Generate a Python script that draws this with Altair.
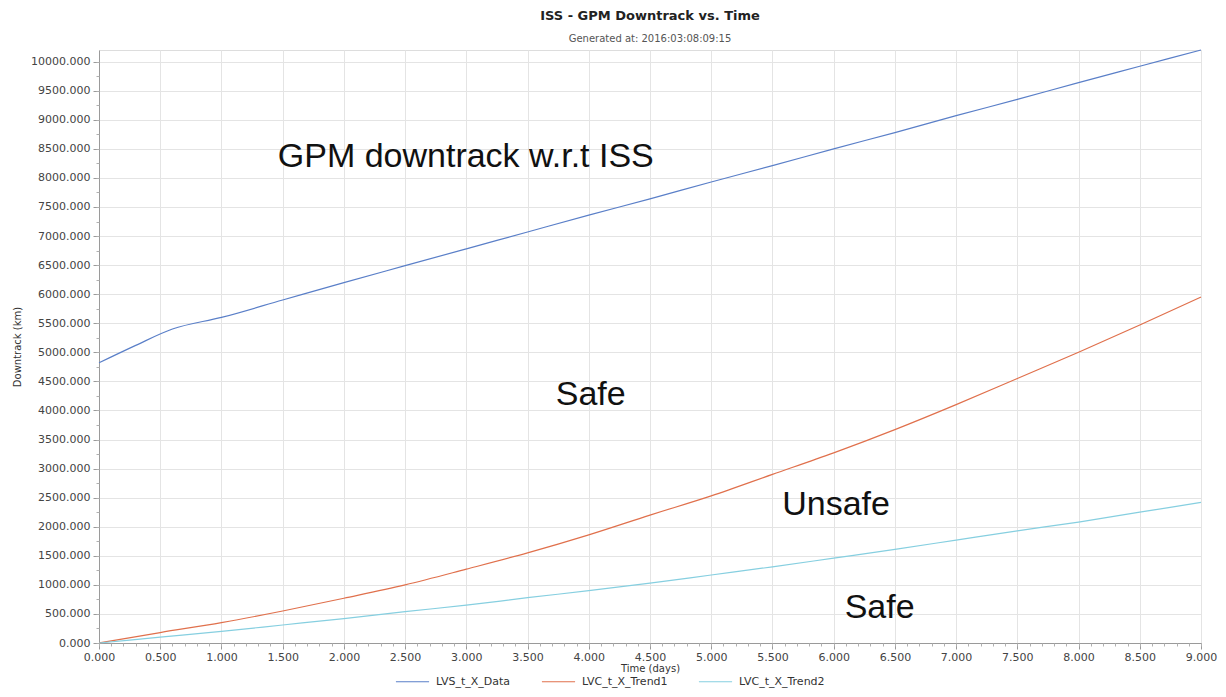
import altair as alt
import pandas as pd

# ---- data ----
blue_x = [0, 0.3, 0.6, 1.0, 1.5, 2.0, 2.5, 3.0, 3.5, 4.0, 4.5, 5.0, 5.5, 6.0, 6.5, 7.0, 7.5, 8.0, 8.5, 9.0]
blue_y = [4820, 5120, 5400, 5600, 5900, 6200, 6490, 6780, 7070, 7360, 7640, 7930, 8210, 8500, 8780, 9070, 9350, 9640, 9920, 10200]

trend_x = [0, 0.5, 1.0, 1.5, 2.0, 2.5, 3.0, 3.5, 4.0, 4.5, 5.0, 5.5, 6.0, 6.5, 7.0, 7.5, 8.0, 8.5, 9.0]
trend1_y = [0, 180, 350, 550, 770, 1000, 1270, 1550, 1860, 2200, 2530, 2900, 3270, 3670, 4100, 4550, 5000, 5470, 5950]
trend2_y = [0, 100, 200, 310, 420, 540, 650, 780, 900, 1030, 1170, 1310, 1460, 1610, 1770, 1930, 2080, 2250, 2420]

series_names = ["LVS_t_X_Data", "LVC_t_X_Trend1", "LVC_t_X_Trend2"]
series_colors = ["#5a7fc8", "#e0704c", "#86cfe0"]

note_text = ["GPM downtrack w.r.t ISS", "Safe", "Unsafe", "Safe"]
note_x = [1.46, 3.73, 5.58, 6.09]
note_y = [8193, 4096, 2203, 430]

x_major = [i * 0.5 for i in range(19)]
x_minor = [round(i * 0.1, 1) for i in range(91)]
y_major = [i * 500 for i in range(21)]
y_minor = [i * 250 for i in range(41)]

rows = []
for x, y in zip(blue_x, blue_y):
    rows.append({"t": x, "v": y, "s": series_names[0]})
for x, y in zip(trend_x, trend1_y):
    rows.append({"t": x, "v": y, "s": series_names[1]})
for x, y in zip(trend_x, trend2_y):
    rows.append({"t": x, "v": y, "s": series_names[2]})
df = pd.DataFrame(rows)
notes = pd.DataFrame({"text": note_text, "t": note_x, "v": note_y})

FONT = "DejaVu Sans"
xscale = alt.Scale(domain=[0, 9], nice=False, zero=False)
yscale = alt.Scale(domain=[0, 10200], nice=False)

lines = alt.Chart(df).mark_line(strokeWidth=1.2, interpolate="monotone").encode(
    x=alt.X("t:Q", scale=xscale, title="Time (days)",
            axis=alt.Axis(values=x_major, format=".3f", orient="bottom", grid=True,
                          gridColor="#e4e4e4", domainColor="#9a9a9a", tickColor="#9a9a9a",
                          tickSize=6, labelFont=FONT, labelFontSize=11, labelColor="#444",
                          labelPadding=2, titleFont=FONT, titleFontSize=10,
                          titleFontWeight="normal", titleColor="#333", titlePadding=1,
                          labelFlush=False)),
    y=alt.Y("v:Q", scale=yscale, title="Downtrack (km)",
            axis=alt.Axis(values=y_major, format=".3f", orient="left", grid=True,
                          gridColor="#e4e4e4", domainColor="#9a9a9a", tickColor="#9a9a9a",
                          tickSize=6, labelFont=FONT, labelFontSize=11, labelColor="#444",
                          labelPadding=3, titleFont=FONT, titleFontSize=10,
                          titleFontWeight="normal", titleColor="#333", titlePadding=8)),
    color=alt.Color("s:N", sort=series_names,
                    scale=alt.Scale(domain=series_names, range=series_colors),
                    legend=alt.Legend(title=None, orient="none", direction="horizontal",
                                      legendX=296, legendY=614, symbolType="stroke",
                                      symbolSize=1100, symbolStrokeWidth=1.2,
                                      labelFont=FONT, labelFontSize=11, labelColor="#333",
                                      columnPadding=28, labelOffset=6, padding=0)),
)

text = alt.Chart(notes).mark_text(align="left", baseline="alphabetic",
                                  font="Liberation Sans", fontSize=34, color="#111").encode(
    x=alt.X("t:Q", scale=xscale,
            axis=alt.Axis(values=x_minor, labels=False, grid=False, domain=False, title=None,
                          orient="bottom", tickColor="#b0b0b0", tickSize=3)),
    y=alt.Y("v:Q", scale=yscale,
            axis=alt.Axis(values=y_minor, labels=False, grid=False, domain=False, title=None,
                          orient="left", tickColor="#b0b0b0", tickSize=3)),
    text="text:N",
)

chart = alt.layer(lines, text).resolve_axis(x="independent", y="independent").properties(
    width=1102,
    height=593,
    autosize=alt.AutoSizeParams(type="none"),
    padding={"left": 91, "top": 42, "right": 17, "bottom": 46},
    title=alt.TitleParams(
        text="ISS - GPM Downtrack vs. Time",
        subtitle="Generated at: 2016:03:08:09:15",
        anchor="middle", font=FONT, fontSize=13, fontWeight="bold", color="#222",
        subtitleFont=FONT, subtitleFontSize=10, subtitleColor="#555",
        subtitlePadding=11, offset=4,
    ),
).configure_view(stroke=None).configure(background="white")

chart.save("out.html", embed_options={"renderer": "svg", "actions": False})
